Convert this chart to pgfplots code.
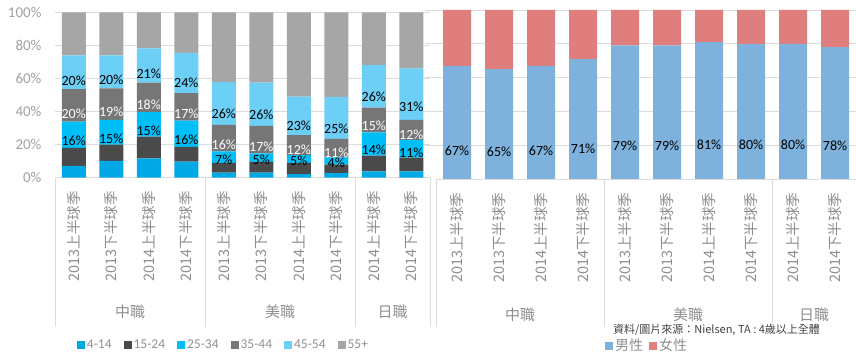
\documentclass[border=0pt]{standalone}
\usepackage{pgfplots}
\pgfplotsset{compat=1.18}
\usepackage{fontspec}
\setmainfont{Carlito}
\newfontfamily\cjk{Noto Sans CJK TC}
\definecolor{cA}{HTML}{00A9E6}
\definecolor{cB}{HTML}{4A4A4A}
\definecolor{cC}{HTML}{00BEF6}
\definecolor{cD}{HTML}{767676}
\definecolor{cE}{HTML}{6DCFF6}
\definecolor{cF}{HTML}{A6A6A6}
\definecolor{male}{HTML}{7EB2DC}
\definecolor{female}{HTML}{E07D7D}
\definecolor{gridc}{HTML}{DCDCDC}
\definecolor{lblc}{HTML}{8F8F8F}
\definecolor{tickc}{HTML}{A0A0A0}
\definecolor{srcc}{HTML}{404040}

\pgfplotsset{
  /pgf/number format/assume math mode=true,
  base/.style={
    scale only axis, ybar stacked, ymin=0, ymax=100,
    xmin=-0.5, xmax=9.5,
    axis line style={draw=none},
    ymajorgrids, grid style={gridc, line width=0.8pt},
    ytick={0,20,...,100},
    major tick length=0pt,
    xtick={0,...,9},
    xticklabels={{2013上半球季},{2013下半球季},{2014上半球季},{2014下半球季},{2013上半球季},{2013下半球季},{2014上半球季},{2014下半球季},{2014上半球季},{2014下半球季}},
    xticklabel style={rotate=90, anchor=east, text=lblc, font=\cjk\fontsize{14.5}{16}\selectfont, xshift=-10pt},
    legend image code/.code={\fill[##1] (0pt,-4pt) rectangle (8pt,4pt);},
    legend style={draw=none, fill=none, text=lblc, legend cell align=left,
      /tikz/every even column/.append style={column sep=10pt}},
    legend columns=-1,
    clip=false,
  },
  lbl/.style={
    nodes near coords={\pgfmathprintnumber[fixed,precision=0]{\pgfplotspointmeta}\%},
    visualization depends on=rawy \as \rawy,
    every node near coord/.style={anchor=center, text=#1,
      font=\fontsize{14}{16}\selectfont,
      shift={(axis direction cs:0,-\rawy/4)}},
  },
}

\begin{document}
\begin{tikzpicture}
\path[use as bounding box] (0pt,0pt) rectangle (856pt,361pt);

\begin{axis}[base, at={(436pt,182pt)}, anchor=south west,
  width=420pt, height=169pt, bar width=28pt,
  yticklabels={},
  legend style={at={(0.395,-0.986)}, anchor=west, font=\cjk\fontsize{14}{16}\selectfont,
    /tikz/every even column/.append style={column sep=4pt}},
]
\addplot[fill=male, draw=none, lbl=black] coordinates {(0,67) (1,65) (2,67) (3,71) (4,79) (5,79) (6,81) (7,80) (8,80) (9,78)};
\addlegendentry{男性}
\addplot[fill=female, draw=none] coordinates {(0,33) (1,35) (2,33) (3,29) (4,21) (5,21) (6,19) (7,20) (8,20) (9,22)};
\addlegendentry{女性}
\foreach \s in {-0.5,3.5,7.5,9.5} {
  \edef\tmp{\noexpand\draw[gridc, line width=0.8pt] (axis cs:\s,0) -- ++(0pt,-148pt);}\tmp
}
\foreach \g in {20,40,60,80,100} {
  \edef\tmp{\noexpand\draw[gridc, line width=0.8pt] (axis cs:-0.5,\g) -- ++(-11pt,0pt);}\tmp
}
\node[text=lblc, font=\cjk\fontsize{15}{17}\selectfont] at ([yshift=-136pt]axis cs:1.5,0) {中職};
\node[text=lblc, font=\cjk\fontsize{15}{17}\selectfont] at ([yshift=-136pt]axis cs:5.5,0) {美職};
\node[text=lblc, font=\cjk\fontsize{15}{17}\selectfont] at ([yshift=-136pt]axis cs:8.5,0) {日職};
\node[anchor=west, text=srcc, font=\cjk\fontsize{11}{13}\selectfont, inner sep=0pt] at (rel axis cs:0.421,-0.893) {資料/圖片來源：Nielsen, TA : 4歲以上全體};
\end{axis}

\begin{axis}[base, at={(55pt,183.3pt)}, anchor=south west,
  width=375pt, height=165.4pt, bar width=24pt,
  yticklabel={\pgfmathprintnumber{\tick}\%},
  yticklabel style={text=tickc, font=\fontsize{15}{17}\selectfont, xshift=-10pt},
  legend style={at={(0.05,-1.01)}, anchor=west, font=\fontsize{13.5}{15}\selectfont},
]
\addplot[fill=cA, draw=none] coordinates {(0,7.1) (1,10.1) (2,11.7) (3,9.7) (4,3.0) (5,3.0) (6,2.2) (7,2.8) (8,3.8) (9,3.8)};
\addlegendentry{4-14}
\addplot[fill=cB, draw=none] coordinates {(0,11.0) (1,9.9) (2,13.1) (3,9.0) (4,5.9) (5,6.5) (6,6.7) (7,5.1) (8,9.6) (9,8.3)};
\addlegendentry{15-24}
\addplot[fill=cC, draw=none, lbl=black] coordinates {(0,15.8) (1,14.9) (2,14.9) (3,15.8) (4,7.0) (5,5.2) (6,4.8) (7,4.4) (8,14.0) (9,10.7)};
\addlegendentry{25-34}
\addplot[fill=cD, draw=none, lbl=white] coordinates {(0,19.7) (1,19.1) (2,17.8) (3,16.7) (4,16.0) (5,16.6) (6,12.1) (7,11.1) (8,14.9) (9,12.1)};
\addlegendentry{35-44}
\addplot[fill=cE, draw=none, lbl=black] coordinates {(0,20.4) (1,20.0) (2,20.7) (3,24.2) (4,26.0) (5,26.2) (6,23.2) (7,25.4) (8,25.8) (9,31.2)};
\addlegendentry{45-54}
\addplot[fill=cF, draw=none] coordinates {(0,26.0) (1,26.0) (2,21.8) (3,24.6) (4,42.1) (5,42.5) (6,51.0) (7,51.2) (8,31.9) (9,33.9)};
\addlegendentry{55+}
\foreach \s in {-0.5,3.5,7.5,9.5} {
  \edef\tmp{\noexpand\draw[gridc, line width=0.8pt] (axis cs:\s,0) -- ++(0pt,-149pt);}\tmp
}
\node[text=lblc, font=\cjk\fontsize{15}{17}\selectfont] at ([yshift=-134pt]axis cs:1.5,0) {中職};
\node[text=lblc, font=\cjk\fontsize{15}{17}\selectfont] at ([yshift=-134pt]axis cs:5.5,0) {美職};
\node[text=lblc, font=\cjk\fontsize{15}{17}\selectfont] at ([yshift=-134pt]axis cs:8.5,0) {日職};
\end{axis}
\end{tikzpicture}
\end{document}
